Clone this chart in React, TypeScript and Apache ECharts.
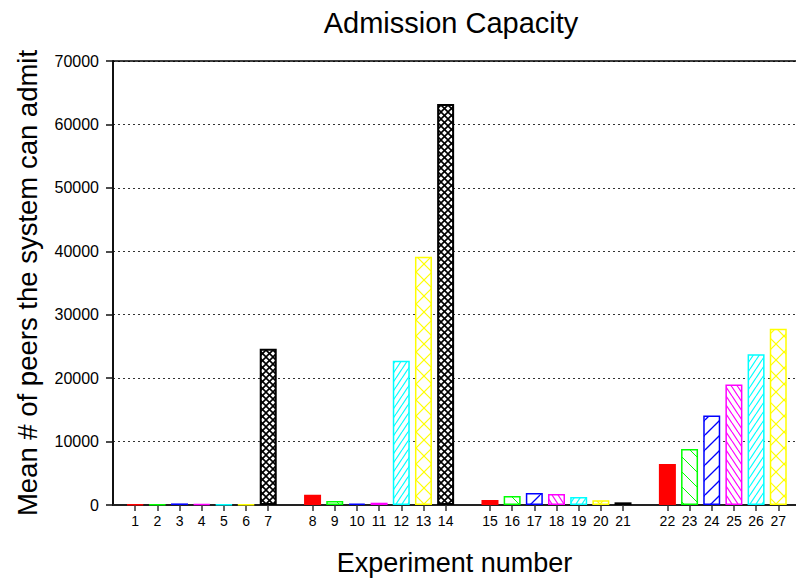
import React, { useEffect, useRef } from "react";
import * as echarts from "echarts";

const experiments = [1, 2, 3, 4, 5, 6, 7, 8, 9, 10, 11, 12, 13, 14, 15, 16, 17, 18, 19, 20, 21, 22, 23, 24, 25, 26, 27];
const capacity = [110, 80, 250, 120, 80, 80, 24650, 1620, 630, 200, 360, 22760, 39120, 63240, 790, 1420, 1890, 1730, 1260, 740, 420, 6450, 8810, 14110, 18990, 23750, 27790];
const groupSize = 7;
const patternKinds = ["solid", "bslash", "slash", "bslashDense", "slashDense", "cross", "crossDense"];
const patternColors = ["#ff0000", "#00ff00", "#0000ff", "#ff00ff", "#00ffff", "#ffff00", "#000000"];
const yTicks = [0, 10000, 20000, 30000, 40000, 50000, 60000, 70000];

const FONT = "Liberation Sans, Arial, sans-serif";

type Spec = { w: number; h: number; dirs: string[]; lw: number };
const specs: Record<string, Spec> = {
  bslash: { w: 15, h: 15, dirs: ["\\"], lw: 1 },
  slash: { w: 15, h: 15, dirs: ["/"], lw: 1.3 },
  bslashDense: { w: 6, h: 9, dirs: ["\\"], lw: 1.2 },
  slashDense: { w: 6, h: 9, dirs: ["/"], lw: 1.2 },
  cross: { w: 16, h: 16, dirs: ["\\", "/"], lw: 1.2 },
  crossDense: { w: 7, h: 7, dirs: ["\\", "/"], lw: 1.6 },
};

function makePattern(kind: string, color: string): any {
  if (kind === "solid") return color;
  const s = specs[kind];
  const c = document.createElement("canvas");
  c.width = s.w;
  c.height = s.h;
  const ctx = c.getContext("2d")!;
  ctx.fillStyle = "#ffffff";
  ctx.fillRect(0, 0, s.w, s.h);
  ctx.strokeStyle = color;
  ctx.lineWidth = s.lw;
  for (const d of s.dirs) {
    for (let k = -1; k <= 1; k++) {
      ctx.beginPath();
      if (d === "\\") {
        ctx.moveTo(k * s.w, 0);
        ctx.lineTo(k * s.w + s.w, s.h);
      } else {
        ctx.moveTo(k * s.w, s.h);
        ctx.lineTo(k * s.w + s.w, 0);
      }
      ctx.stroke();
    }
  }
  return { image: c.toDataURL(), repeat: "repeat", imageWidth: s.w, imageHeight: s.h };
}

const positionOf = (exp: number) => exp + Math.floor((exp - 1) / groupSize);

export default function App() {
  const ref = useRef<HTMLDivElement>(null);
  useEffect(() => {
    if (!ref.current) return;
    const chart = echarts.init(ref.current, null, { renderer: "svg" });
    const positions = experiments.map(positionOf);
    const labelMap: Record<number, string> = {};
    experiments.forEach((e, i) => (labelMap[positions[i]] = String(e)));
    const data = experiments.map((e, i) => {
      const k = (e - 1) % groupSize;
      const color = patternColors[k];
      return {
        value: [positions[i], capacity[i]],
        itemStyle: {
          color: makePattern(patternKinds[k], color),
          borderColor: color,
          borderWidth: k === 6 ? 2 : 1.5,
        },
      };
    });
    chart.setOption({
      animation: false,
      backgroundColor: "#ffffff",
      textStyle: { fontFamily: FONT },
      graphic: [
        {
          type: "text",
          x: 451,
          y: 23,
          style: {
            text: "Admission Capacity",
            fontSize: 29,
            fontFamily: FONT,
            fill: "#000",
            textAlign: "center",
            textVerticalAlign: "middle",
          },
        },
      ],
      grid: { left: 113, top: 61, right: 0, bottom: 75, containLabel: false },
      xAxis: {
        type: "value",
        min: 0,
        max: 30.8,
        name: "Experiment number",
        nameLocation: "middle",
        nameGap: 44,
        nameTextStyle: { fontSize: 27, color: "#000", fontFamily: FONT },
        axisLine: { show: true, lineStyle: { color: "#222", width: 2 } },
        axisTick: {
          show: true,
          length: 6,
          customValues: positions,
          lineStyle: { color: "#333", width: 1.5 },
        },
        axisLabel: {
          customValues: positions,
          fontSize: 14,
          color: "#000",
          margin: 9,
          fontFamily: FONT,
          formatter: (v: number) => labelMap[Math.round(v)] ?? "",
        },
        splitLine: { show: false },
      },
      yAxis: {
        type: "value",
        min: 0,
        max: 70000,
        interval: 10000,
        name: "Mean # of peers the system can admit",
        nameLocation: "middle",
        nameGap: 72,
        nameTextStyle: { fontSize: 27.5, color: "#000", fontFamily: FONT },
        axisLine: { show: true, lineStyle: { color: "#111", width: 2 } },
        axisTick: { show: true, length: 7, lineStyle: { color: "#111", width: 1.5 } },
        axisLabel: {
          fontSize: 16,
          color: "#000",
          margin: 14,
          fontFamily: FONT,
          formatter: (v: number) => (yTicks.includes(v) ? String(v) : ""),
        },
        splitLine: { show: true, lineStyle: { type: [2, 3], color: "#333", width: 1 } },
      },
      series: [
        {
          type: "bar",
          barWidth: 17,
          data,
          markLine: {
            silent: true,
            symbol: "none",
            label: { show: false },
            lineStyle: { type: "solid", color: "#000", width: 1.5 },
            data: [{ yAxis: 70000 }],
          },
        },
      ],
    });
    return () => chart.dispose();
  }, []);
  return (
    <div
      ref={ref}
      style={{ position: "absolute", left: 0, top: 0, width: 796, height: 581 }}
    />
  );
}
